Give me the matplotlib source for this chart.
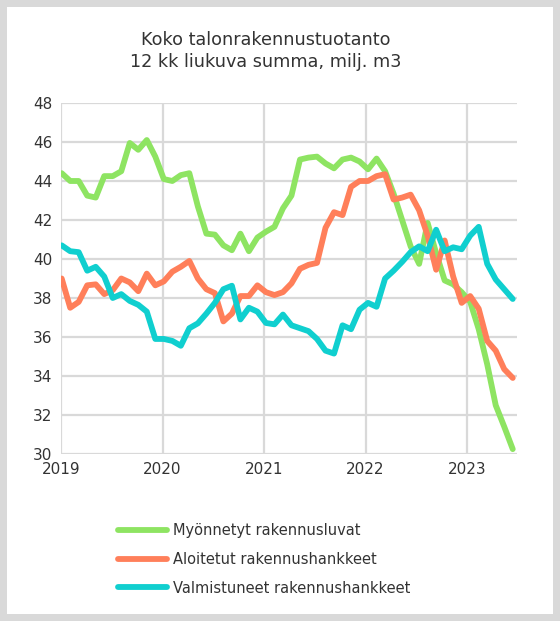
import numpy as np
import matplotlib
matplotlib.use("Agg")
import matplotlib.pyplot as plt
from matplotlib.patches import Rectangle

# monthly 12 month moving sums, 2019-01 .. 2023-06
years = ["2019", "2020", "2021", "2022", "2023"]
myonnetyt = [44.4, 44.0, 44.0, 43.25, 43.15, 44.25, 44.25, 44.5, 45.95, 45.6,
             46.1, 45.25, 44.1, 44.0, 44.3, 44.4, 42.7, 41.3, 41.25, 40.7,
             40.45, 41.3, 40.4, 41.1, 41.4, 41.65, 42.6, 43.25, 45.1, 45.2,
             45.25, 44.9, 44.65, 45.1, 45.2, 45.0, 44.6, 45.15, 44.5, 43.35,
             42.0, 40.65, 39.75, 41.85, 40.3, 38.9, 38.7, 38.3, 37.8, 36.4,
             34.6, 32.5, 31.4, 30.25]
aloitetut = [39.0, 37.5, 37.8, 38.65, 38.7, 38.2, 38.4, 39.0, 38.8, 38.35,
             39.25, 38.65, 38.85, 39.35, 39.6, 39.9, 39.0, 38.45, 38.25, 36.8,
             37.2, 38.1, 38.1, 38.65, 38.3, 38.15, 38.3, 38.75, 39.5, 39.7,
             39.8, 41.6, 42.4, 42.25, 43.7, 44.0, 44.0, 44.25, 44.35, 43.05,
             43.15, 43.3, 42.5, 41.2, 39.45, 40.95, 39.1, 37.75, 38.1, 37.45,
             35.8, 35.3, 34.35, 33.9]
valmistuneet = [40.7, 40.4, 40.35, 39.4, 39.6, 39.1, 38.0, 38.2, 37.85, 37.65,
                37.3, 35.9, 35.9, 35.8, 35.55, 36.45, 36.7, 37.2, 37.75, 38.45,
                38.63, 36.9, 37.5, 37.3, 36.72, 36.65, 37.15, 36.6, 36.45, 36.3,
                35.9, 35.3, 35.15, 36.6, 36.4, 37.4, 37.75, 37.55, 39.0, 39.4,
                39.85, 40.35, 40.65, 40.4, 41.5, 40.4, 40.6, 40.5, 41.2, 41.65,
                39.75, 38.95, 38.45, 37.95]
labels = ["Myönnetyt rakennusluvat", "Aloitetut rakennushankkeet",
          "Valmistuneet rakennushankkeet"]
colors = ["#8EE462", "#FF7F5A", "#10CFCF"]

txt = "#333333"
grid = "#D9D9D9"

fig = plt.figure(figsize=(5.6, 6.21), dpi=100, facecolor=grid)
fig.patches.append(Rectangle((7 / 560, 7 / 621), 546 / 560, 607 / 621,
                             transform=fig.transFigure, facecolor="white",
                             edgecolor="none", zorder=-5))

ax = fig.add_axes([61 / 560, 1 - 454 / 621, 456 / 560, 351 / 621])
ax.set_facecolor("none")
ax.set_zorder(2)

x = np.arange(len(myonnetyt))
for ser, lab, c in zip([myonnetyt, aloitetut, valmistuneet], labels, colors):
    ax.plot(x, ser, color=c, lw=4.2, label=lab, solid_capstyle="round",
            solid_joinstyle="round")

# year gridlines in the source sit a little under 12 points apart
ax.set_xlim(-0.08, 53.5)
ax.set_ylim(30, 48)
ax.set_yticks(np.arange(30, 49, 2))
ax.set_xticks(-0.08 + 11.93 * np.arange(len(years)))
ax.set_xticklabels(years)
ax.grid(True, color=grid, lw=1.6)
ax.set_axisbelow(True)
for s in ax.spines.values():
    s.set_visible(False)
ax.tick_params(length=0, labelsize=11, colors=txt, pad=6)

fig.text(266 / 560, 1 - 51 / 621,
         "Koko talonrakennustuotanto\n12 kk liukuva summa, milj. m3",
         ha="center", va="center", fontsize=12.7, color=txt, linespacing=1.25)

leg = fig.legend(loc="upper left", bbox_to_anchor=(112 / 560, 1 - 517 / 621),
                 frameon=False, fontsize=10.5, handlelength=3.4,
                 handletextpad=0.35, labelspacing=0.95, borderaxespad=0)
for t in leg.get_texts():
    t.set_color(txt)

fig.savefig("out.png", dpi=100, facecolor=fig.get_facecolor())
